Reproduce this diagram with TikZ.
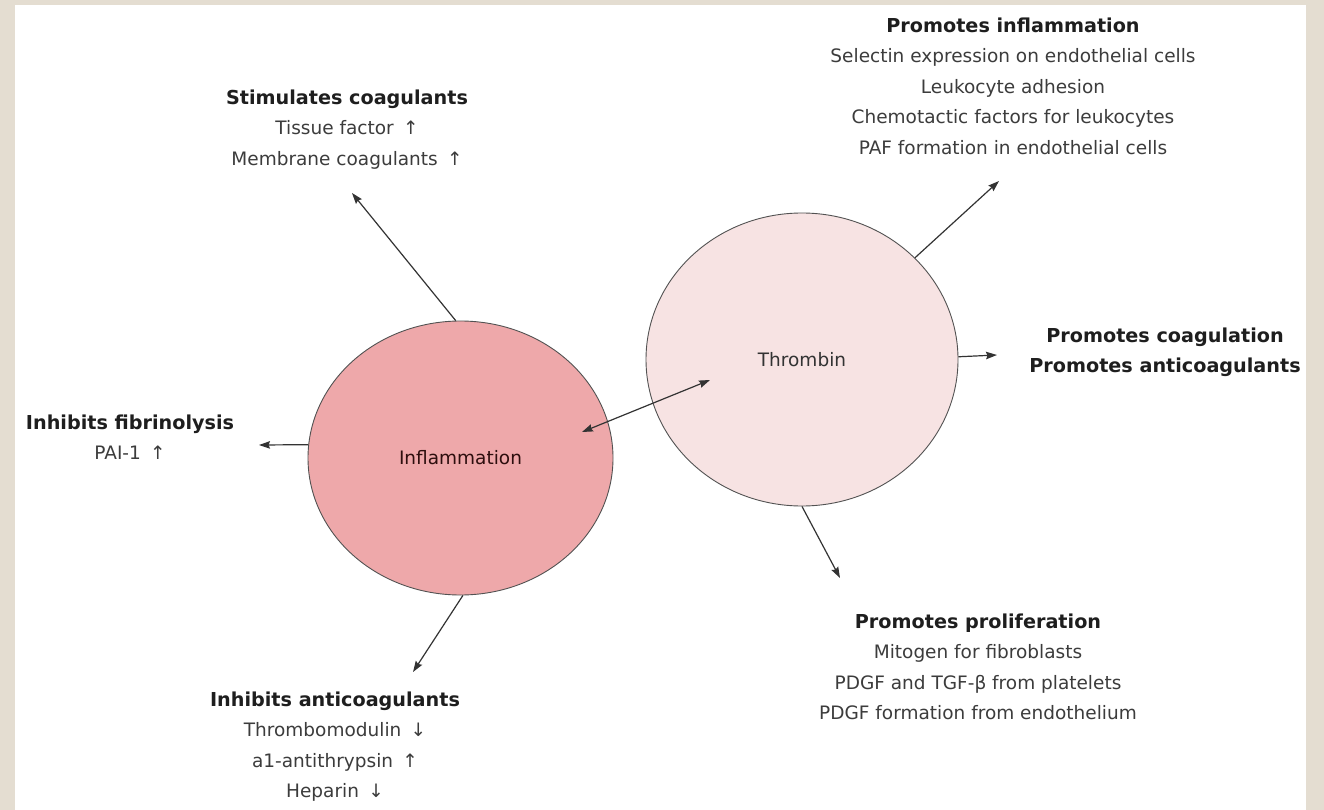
\documentclass[tikz,border=0pt]{standalone}
\usepackage{fontspec}
\setmainfont{DejaVu Sans}
\usetikzlibrary{shapes.geometric,arrows.meta}
\definecolor{framebg}{HTML}{E4DDD1}
\definecolor{inflfill}{HTML}{EEA8AA}
\definecolor{thrfill}{HTML}{F7E3E3}
\definecolor{ink}{HTML}{333333}
\definecolor{txt}{HTML}{3C3C3C}
\definecolor{head}{HTML}{1E1E1E}
\newcommand{\hd}[1]{{\color{head}\fontsize{19.2}{30.5}\selectfont\bfseries #1}}
\begin{document}
\begin{tikzpicture}[x=1pt,y=-1pt,
  blob/.style={ellipse, draw=ink!85, line width=0.9pt, inner sep=0pt,
    font=\fontsize{18.5}{22}\selectfont},
  info/.style={align=center, inner sep=0pt, text=txt,
    font=\fontsize{18.5}{30.5}\selectfont},
  link/.style={draw=ink, line width=1.2pt,
    -{Stealth[length=11pt,width=7.5pt,inset=1.5pt]}},
  bilink/.style={draw=ink, line width=1.2pt,
    {Stealth[length=11pt,width=7.5pt,inset=1.5pt]}-{Stealth[length=11pt,width=7.5pt,inset=1.5pt]}},
]
% page frame
\fill[framebg] (0,0) rectangle (1324,810);
\fill[white] (15,5) rectangle (1306,810);

% the two central ellipses
\node[blob, fill=inflfill, text=head!80!red!60!black,
  minimum width=305pt, minimum height=274pt] (infl) at (460.5,458) {Inflammation};
\node[blob, fill=thrfill, text=ink,
  minimum width=312pt, minimum height=293pt] (thr) at (802,359.5) {Thrombin};

% text blocks
\node[info] (stim) at (347,129.5) {\hd{Stimulates coagulants}\\
  Tissue factor\enspace↑\\ Membrane coagulants\enspace↑};
\node[info] (fib) at (130,437) {\hd{Inhibits fibrinolysis}\\ PAI-1\enspace↑};
\node[info] (anti) at (335,746.75) {\hd{Inhibits anticoagulants}\\
  Thrombomodulin\enspace↓\\ a1-antithrypsin\enspace↑\\ Heparin\enspace↓};
\node[info] (pinf) at (1013,86) {\hd{Promotes inflammation}\\
  Selectin expression on endothelial cells\\ Leukocyte adhesion\\
  Chemotactic factors for leukocytes\\ PAF formation in endothelial cells};
\node[info] (pcoag) at (1165,352.5) {\hd{Promotes coagulation}\\ \hd{Promotes anticoagulants}};
\node[info] (prol) at (978,667) {\hd{Promotes proliferation}\\
  Mitogen for fibroblasts\\ PDGF and TGF-β from platelets\\
  PDGF formation from endothelium};

% arrow end points
\coordinate (tStim) at (352,193);
\coordinate (tFib) at (259,445);
\coordinate (tAnti) at (413,672);
\coordinate (tPinf) at (999,181);
\coordinate (tPcoag) at (997,355);
\coordinate (tProl) at (840,578);
\coordinate (eInfl) at (582,432);
\coordinate (eThr) at (710,380);

% connectors
\draw[link] (infl.92) -- (tStim);
\draw[link] (infl.175) -- (tFib);
\draw[link] (infl.-89) -- (tAnti);
\draw[link] (thr.42) -- (tPinf);
\draw[link] (thr.1) -- (tPcoag);
\draw[link] (thr.south) -- (tProl);
\draw[bilink] (eInfl) -- (eThr);
\end{tikzpicture}
\end{document}
